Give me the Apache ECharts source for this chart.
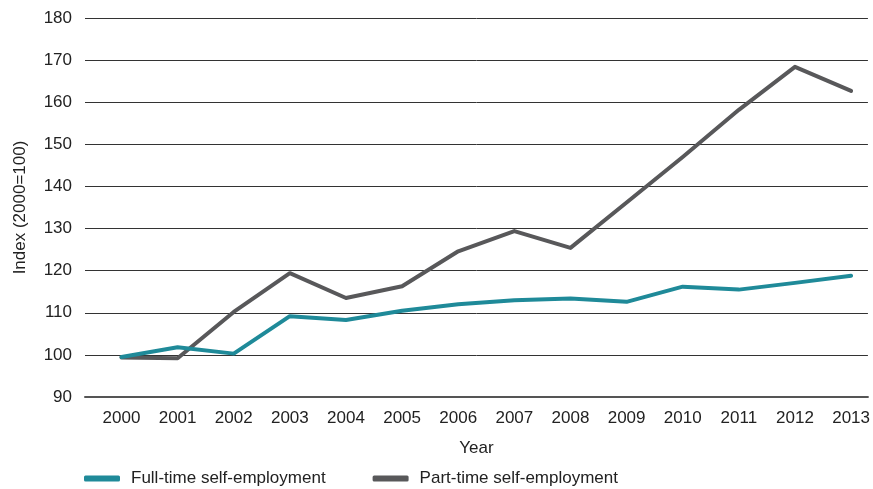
<!DOCTYPE html>
<html>
<head>
<meta charset="utf-8">
<script src="https://cdn.jsdelivr.net/npm/echarts@6/dist/echarts.min.js"></script>
<style>html,body{margin:0;padding:0;background:#fff}#c{width:873px;height:489px}</style>
</head>
<body>
<div id="c"></div>
<script>
const years = [2000,2001,2002,2003,2004,2005,2006,2007,2008,2009,2010,2011,2012,2013];
const fullTime = [99.5,101.8,100.3,109.2,108.3,110.5,112.0,113.0,113.4,112.6,116.2,115.5,117.1,118.8];
const partTime = [99.4,99.2,110.2,119.4,113.5,116.3,124.6,129.4,125.4,136.2,147.0,158.2,168.4,162.7];
const yTicks = [90,100,110,120,130,140,150,160,170,180];
const seriesNames = ['Full-time self-employment','Part-time self-employment'];

const font = '"Liberation Sans", Arial, sans-serif';
const txt = '#222';
const fs = 17;
const chart = echarts.init(document.getElementById('c'), null, {renderer:'canvas'});
chart.setOption({
  animation:false,
  textStyle:{fontFamily:font},
  grid:{left:85,right:0,top:18,bottom:92},
  legend:{
    left:84, top:470, padding:0, itemWidth:36, itemHeight:6, itemGap:47,
    icon:'roundRect',
    textStyle:{fontFamily:font,fontSize:fs,color:txt,padding:[0,0,0,6]},
    data:seriesNames
  },
  xAxis:{
    type:'value', min:1999.35, max:2013.3,
    name:'Year', nameLocation:'middle', nameGap:43,
    nameTextStyle:{fontFamily:font,fontSize:fs,color:txt},
    axisLine:{show:true,onZero:false,lineStyle:{color:'#555',width:2}},
    axisTick:{show:false},
    splitLine:{show:false},
    axisLabel:{customValues:years,formatter:v=>String(v),fontFamily:font,fontSize:fs,color:txt,margin:13}
  },
  yAxis:{
    type:'value', min:90, max:180, interval:10,
    name:'Index (2000=100)', nameLocation:'middle', nameGap:56, nameRotate:90,
    nameTextStyle:{fontFamily:font,fontSize:fs,color:txt},
    axisLine:{show:false}, axisTick:{show:false},
    splitLine:{lineStyle:{color:'#333',width:1}},
    axisLabel:{customValues:yTicks,fontFamily:font,fontSize:fs,color:txt,margin:13}
  },
  series:[
    {name:seriesNames[0],type:'line',data:years.map((y,i)=>[y,fullTime[i]]),showSymbol:false,
     lineStyle:{color:'#1f8a99',width:4,cap:'round',join:'round'},itemStyle:{color:'#1f8a99'},z:3},
    {name:seriesNames[1],type:'line',data:years.map((y,i)=>[y,partTime[i]]),showSymbol:false,
     lineStyle:{color:'#58585a',width:4,cap:'round',join:'round'},itemStyle:{color:'#58585a'},z:2}
  ]
});
</script>
</body>
</html>
